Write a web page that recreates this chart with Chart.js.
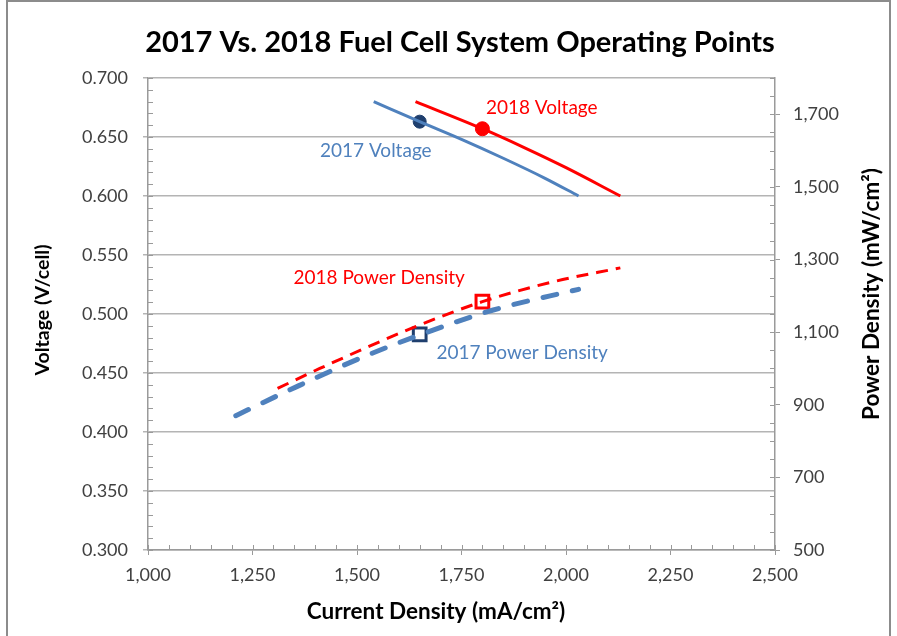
<!DOCTYPE html>
<html>
<head>
<meta charset="utf-8">
<script src="https://cdn.jsdelivr.net/npm/chart.js@4/dist/chart.umd.min.js"></script>
<style>
html,body{margin:0;padding:0;background:#fff;}
#wrap{width:897px;height:636px;}
</style>
</head>
<body>
<div id="wrap"><canvas id="c" width="897" height="636"></canvas></div>
<script>
// ---- data ----
const cd2017V = [1540, 1650, 1750, 1850, 1950, 2030];
const volt2017 = [0.680, 0.663, 0.648, 0.632, 0.615, 0.600];
const cd2018V = [1640, 1800, 1900, 2000, 2130];
const volt2018 = [0.680, 0.657, 0.641, 0.624, 0.600];
const cd2017P = [1210, 1356, 1507, 1654, 1826, 2030];
const pd2017 = [870, 950, 1028, 1094, 1161, 1218];
const cd2018P = [1310, 1411, 1640, 1800, 1970, 2130];
const pd2018 = [945, 1000, 1115, 1184, 1239, 1277];
const op2017 = {cd: 1650, v: 0.663, pd: 1094};
const op2018 = {cd: 1800, v: 0.657, pd: 1184};
const xTicks = [1000, 1250, 1500, 1750, 2000, 2250, 2500];
const vTicks = [0.300, 0.350, 0.400, 0.450, 0.500, 0.550, 0.600, 0.650, 0.700];
const pTicks = [500, 700, 900, 1100, 1300, 1500, 1700];

const BLUE = '#4F81BD', NAVY = '#1F3F6E', RED = '#FF0000';
const zip = (xs, ys) => xs.map((x, i) => ({x: x, y: ys[i]}));

const labels = [
  {text: '2018 Voltage', x: 1942, y: 0.675, color: RED},
  {text: '2017 Voltage', x: 1545, y: 0.638, color: BLUE},
  {text: '2018 Power Density', x: 1553, y: 0.531, color: RED},
  {text: '2017 Power Density', x: 1895, y: 0.467, color: BLUE}
];

const FONT = 'Lato, "Liberation Sans", sans-serif';
const fmt = v => Number(v).toLocaleString('en-US');
const gridCol = '#B4B4B4', axisCol = '#9A9A9A';

const decor = {
  id: 'decor',
  beforeDraw(chart) {
    const ctx = chart.ctx;
    ctx.save();
    ctx.fillStyle = '#fff';
    ctx.fillRect(0, 0, chart.width, chart.height);
    ctx.strokeStyle = '#8C8C8C';
    ctx.lineWidth = 2;
    ctx.strokeRect(7, 1, 883, 660);
    ctx.restore();
  },
  beforeDatasetsDraw(chart) {
    // minor / inner tick marks
    const ctx = chart.ctx, a = chart.chartArea;
    const sx = chart.scales.x, sv = chart.scales.yV, sp = chart.scales.yP;
    ctx.save();
    ctx.strokeStyle = axisCol;
    ctx.lineWidth = 1;
    ctx.beginPath();
    for (let v = 1000; v <= 2500; v += 50) {
      const p = Math.round(sx.getPixelForValue(v)) + 0.5;
      ctx.moveTo(p, a.bottom); ctx.lineTo(p, a.bottom - 5);
    }
    for (let i = 0; i <= 40; i++) {
      const p = Math.round(sv.getPixelForValue(0.3 + i * 0.01)) + 0.5;
      ctx.moveTo(a.left, p); ctx.lineTo(a.left + 5, p);
    }
    for (let v = 500; v <= 1800; v += 50) {
      const p = Math.round(sp.getPixelForValue(v)) + 0.5;
      ctx.moveTo(a.right, p); ctx.lineTo(a.right - 5, p);
    }
    ctx.stroke();
    ctx.restore();
  },
  afterDraw(chart) {
    const ctx = chart.ctx;
    const sx = chart.scales.x, sy = chart.scales.yV;
    ctx.save();
    ctx.textAlign = 'center';
    ctx.textBaseline = 'middle';
    ctx.fillStyle = '#000';
    ctx.font = 'bold 29px ' + FONT;
    ctx.fillText('2017 Vs. 2018 Fuel Cell System Operating Points', 460, 43);
    ctx.font = 'bold 22.5px ' + FONT;
    ctx.fillText('Current Density (mA/cm\u00B2)', 436, 612);
    ctx.save();
    ctx.translate(872, 294);
    ctx.rotate(-Math.PI / 2);
    ctx.fillText('Power Density (mW/cm\u00B2)', 0, 0);
    ctx.restore();
    ctx.font = 'bold 19.5px ' + FONT;
    ctx.save();
    ctx.translate(43, 310);
    ctx.rotate(-Math.PI / 2);
    ctx.fillText('Voltage (V/cell)', 0, 0);
    ctx.restore();
    ctx.font = '19px ' + FONT;
    labels.forEach(l => {
      ctx.fillStyle = l.color;
      ctx.fillText(l.text, sx.getPixelForValue(l.x), sy.getPixelForValue(l.y));
    });
    ctx.restore();
  }
};

new Chart(document.getElementById('c'), {
  type: 'line',
  data: {
    datasets: [
      {label: '2017 Power Density', data: zip(cd2017P, pd2017), yAxisID: 'yP', borderColor: BLUE, borderWidth: 5, borderDash: [14, 16], borderCapStyle: 'round', pointRadius: 0, cubicInterpolationMode: 'monotone', fill: false},
      {label: '2018 Power Density', data: zip(cd2018P, pd2018), yAxisID: 'yP', borderColor: RED, borderWidth: 3, borderDash: [12, 8], pointRadius: 0, cubicInterpolationMode: 'monotone', fill: false},
      {label: '2017 Voltage', data: zip(cd2017V, volt2017), yAxisID: 'yV', borderColor: BLUE, borderWidth: 3, pointRadius: 0, cubicInterpolationMode: 'monotone', fill: false},
      {label: '2018 Voltage', data: zip(cd2018V, volt2018), yAxisID: 'yV', borderColor: RED, borderWidth: 3, pointRadius: 0, cubicInterpolationMode: 'monotone', fill: false},
      {label: '2017 Op V', data: [{x: op2017.cd, y: op2017.v}], yAxisID: 'yV', showLine: false, pointRadius: 6.5, pointBackgroundColor: NAVY, pointBorderColor: NAVY, pointBorderWidth: 1},
      {label: '2018 Op V', data: [{x: op2018.cd, y: op2018.v}], yAxisID: 'yV', showLine: false, pointRadius: 7, pointBackgroundColor: RED, pointBorderColor: RED, pointBorderWidth: 1},
      {label: '2017 Op P', data: [{x: op2017.cd, y: op2017.pd}], yAxisID: 'yP', showLine: false, pointStyle: 'rect', pointRadius: 9, pointBackgroundColor: '#fff', pointBorderColor: NAVY, pointBorderWidth: 3},
      {label: '2018 Op P', data: [{x: op2018.cd, y: op2018.pd}], yAxisID: 'yP', showLine: false, pointStyle: 'rect', pointRadius: 9, pointBackgroundColor: '#fff', pointBorderColor: RED, pointBorderWidth: 3}
    ]
  },
  options: {
    responsive: false,
    devicePixelRatio: 1,
    animation: false,
    events: [],
    layout: {padding: {top: 78, left: 0, right: 0, bottom: 0}},
    plugins: {legend: {display: false}, title: {display: false}, tooltip: {enabled: false}},
    scales: {
      x: {
        type: 'linear', position: 'bottom', min: 1000, max: 2500,
        afterFit: s => { s.height = 86; },
        afterBuildTicks: s => { s.ticks = xTicks.map(v => ({value: v})); },
        ticks: {callback: fmt, color: '#404040', font: {family: FONT, size: 18}, padding: 9, maxRotation: 0},
        grid: {drawOnChartArea: false, drawTicks: true, tickLength: 5, color: axisCol},
        border: {color: axisCol, width: 1.5}
      },
      yV: {
        type: 'linear', position: 'left', min: 0.3, max: 0.7,
        afterFit: s => { s.width = 148; },
        afterBuildTicks: s => { s.ticks = vTicks.map(v => ({value: v})); },
        ticks: {callback: v => Number(v).toFixed(3), color: '#404040', font: {family: FONT, size: 18}, padding: 15},
        grid: {color: gridCol, lineWidth: 1.5, drawTicks: true, tickLength: 5},
        border: {color: axisCol, width: 1.5}
      },
      yP: {
        type: 'linear', position: 'right', min: 500, max: 1800,
        afterFit: s => { s.width = 122; },
        afterBuildTicks: s => { s.ticks = pTicks.map(v => ({value: v})); },
        ticks: {callback: fmt, color: '#404040', font: {family: FONT, size: 18}, padding: 13},
        grid: {drawOnChartArea: false, drawTicks: true, tickLength: 5, color: axisCol},
        border: {color: axisCol, width: 1.5}
      }
    }
  },
  plugins: [decor]
});
</script>
</body>
</html>
